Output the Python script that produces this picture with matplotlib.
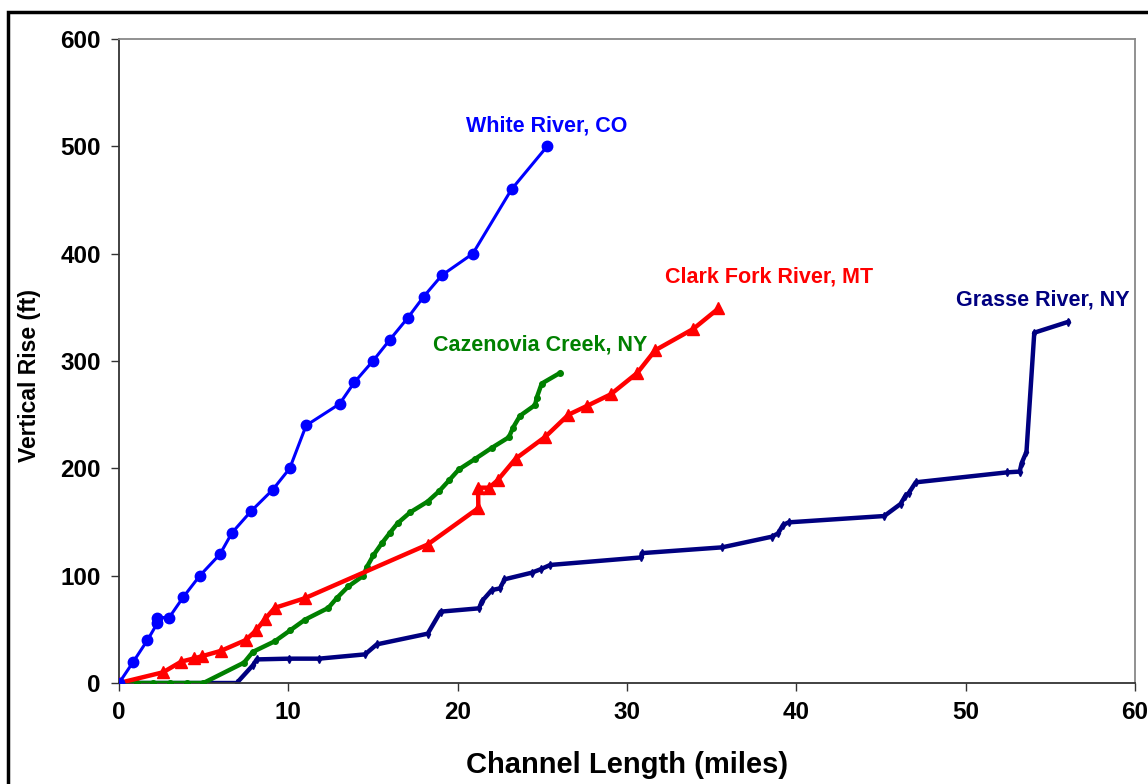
import matplotlib.pyplot as plt
from matplotlib.patches import Rectangle

plt.rcParams['font.family'] = ['Liberation Sans', 'DejaVu Sans']
plt.rcParams['font.weight'] = 'bold'

# White River, CO
white_x = [0, 0.85, 1.68, 2.27, 2.27, 2.96, 3.79, 4.77, 5.96, 6.67, 7.79, 9.07, 10.08,
           11.05, 13.02, 13.89, 14.99, 16.0, 17.04, 17.99, 19.07, 20.89, 23.18, 25.28]
white_y = [0, 20, 40, 56, 61, 61, 80, 100, 120, 140, 160, 180, 200,
           240, 260, 280, 300, 320, 340, 360, 380, 400, 460, 500]

# Clark Fork River, MT
clark_x = [0, 2.6, 3.68, 4.45, 4.9, 6.02, 7.48, 8.09, 8.64, 9.19, 10.97, 18.22,
           21.22, 21.2, 21.86, 22.36, 23.42, 25.18, 26.54, 27.61, 29.04, 30.61,
           31.66, 33.92, 35.4]
clark_y = [0, 10, 20, 23, 25, 30, 40, 49, 60, 70, 79, 129,
           163, 182, 182, 189, 209, 229.5, 250, 258, 269, 289,
           310, 330, 349]

# Cazenovia Creek, NY
caz_x = [0, 1.04, 2.03, 3.01, 4.0, 4.98, 7.38, 7.9, 9.21, 10.1, 10.98, 12.36,
         12.85, 13.54, 14.43, 14.63, 15.02, 15.51, 16.0, 16.46, 17.19, 18.22,
         18.92, 19.5, 20.07, 21.05, 22.0, 23.02, 23.27, 23.68, 24.57, 24.67,
         24.96, 26.05]
caz_y = [0, 0, 0, 0, 0, 0, 19, 29, 39, 49, 59, 70,
         79, 90, 100, 108, 119, 130, 140, 149, 159, 169,
         179, 189, 199, 209, 219, 229, 238, 249, 259, 266,
         279, 289]

# Grasse River, NY
grasse_x = [0, 6.95, 7.93, 8.13, 10.04, 11.81, 14.53, 15.22, 18.23, 18.99, 21.26,
            21.42, 22.01, 22.5, 22.76, 24.37, 24.9, 25.46, 30.82, 30.87, 35.61,
            38.54, 38.92, 39.21, 39.54, 45.19, 46.15, 46.43, 46.65, 47.05, 52.46,
            53.19, 53.3, 53.59, 54.05, 56.07]
grasse_y = [0, 0, 17, 22, 22.7, 22.7, 26.7, 36, 46, 66.5, 69.6,
            76, 86.6, 88.2, 96.6, 102.8, 106, 110, 117, 121, 126.4,
            136.3, 139.4, 147.2, 149.7, 155.6, 166.8, 174.2, 177.3, 187, 196.3,
            197, 204.7, 215.5, 326.4, 336.6]

# series labels: text, x centre, baseline y, colour
labels = [('White River, CO', 25.28, 514, '#0000FF'),
          ('Cazenovia Creek, NY', 24.9, 310, '#008000'),
          ('Clark Fork River, MT', 38.36, 373, '#FF0000'),
          ('Grasse River, NY', 54.53, 352, '#000080')]

fig = plt.figure(figsize=(11.48, 7.84), dpi=100)
ax = fig.add_axes([0.1037, 0.1288, 0.885, 0.8214])

ax.plot(grasse_x, grasse_y, color='#000080', lw=3.2, marker='d', ms=4, zorder=2)
ax.plot(caz_x, caz_y, color='#008000', lw=3.2, marker='o', ms=4, zorder=3)
ax.plot(clark_x, clark_y, color='#FF0000', lw=3.2, marker='^', ms=8, zorder=4)
ax.plot(white_x, white_y, color='#0000FF', lw=2.2, marker='o', ms=7.5, zorder=5)

for txt, lx, ly, col in labels:
    ax.text(lx, ly, txt, color=col, fontsize=15.5, fontweight='bold',
            ha='center', va='baseline')

ax.set_xlim(0, 60)
ax.set_ylim(0, 600)
ax.set_xticks(range(0, 61, 10))
ax.set_yticks(range(0, 601, 100))
ax.tick_params(direction='out', length=6, width=1, labelsize=17.5, pad=7,
               color='#333333')
for lab in ax.get_xticklabels() + ax.get_yticklabels():
    lab.set_fontweight('bold')
ax.set_xlabel('Channel Length (miles)', fontsize=21, fontweight='bold')
ax.set_ylabel('Vertical Rise (ft)', fontsize=16.5, fontweight='bold')
ax.xaxis.set_label_coords(0.5, -0.105)
ax.yaxis.set_label_coords(-0.077, 0.478)

for side in ['left', 'bottom']:
    ax.spines[side].set_color('#333333')
    ax.spines[side].set_linewidth(1.3)
for side in ['top', 'right']:
    ax.spines[side].set_color('#888888')
    ax.spines[side].set_linewidth(1.3)

# outer chart frame
fig.patches.append(Rectangle((8 / 1148, -0.1), 1.2, (784 - 12) / 784 + 0.1,
                             transform=fig.transFigure, fill=False,
                             edgecolor='black', lw=2.5))

fig.savefig('out.png', dpi=100)
